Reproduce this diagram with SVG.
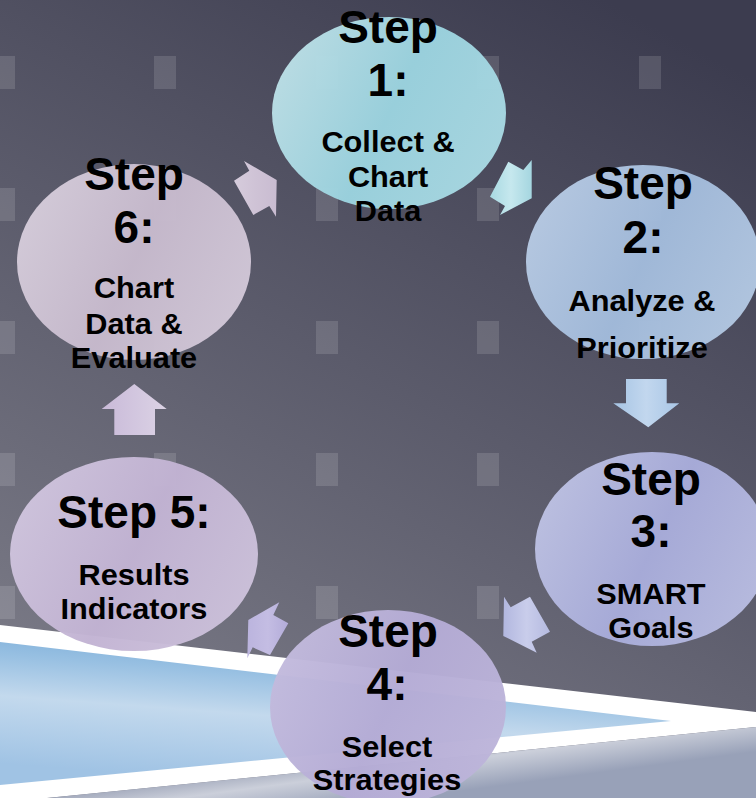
<svg xmlns="http://www.w3.org/2000/svg" width="756" height="798" viewBox="0 0 756 798">
<defs>
<linearGradient id="bg" x1="0.8" y1="0" x2="0.3" y2="1">
<stop offset="0" stop-color="#3c3c4f"/>
<stop offset="0.5" stop-color="#5b5b6b"/>
<stop offset="1" stop-color="#7b7b87"/>
</linearGradient>
<linearGradient id="blue" gradientUnits="userSpaceOnUse" x1="300" y1="650" x2="290" y2="785">
<stop offset="0" stop-color="#7fb0da"/>
<stop offset="0.2" stop-color="#98c0e2"/>
<stop offset="0.5" stop-color="#c3d9ed"/>
<stop offset="0.8" stop-color="#aecce8"/>
<stop offset="1" stop-color="#a0c3e4"/>
</linearGradient>
<linearGradient id="steel" gradientUnits="userSpaceOnUse" x1="400" y1="738" x2="408" y2="798">
<stop offset="0" stop-color="#868fa7"/>
<stop offset="0.5" stop-color="#cbcfda"/>
<stop offset="1" stop-color="#98a1b8"/>
</linearGradient>
<linearGradient id="g1" x1="0" y1="0.3" x2="1" y2="0.7"><stop offset="0" stop-color="#bde0e7"/><stop offset="0.5" stop-color="#9bd3df"/><stop offset="1" stop-color="#a9d9e3"/></linearGradient>
<linearGradient id="g2" x1="0" y1="0.3" x2="1" y2="0.7"><stop offset="0" stop-color="#b8cbe4"/><stop offset="0.5" stop-color="#a2bbdb"/><stop offset="1" stop-color="#b3c8e2"/></linearGradient>
<linearGradient id="g3" x1="0" y1="0.3" x2="1" y2="0.7"><stop offset="0" stop-color="#bec2e3"/><stop offset="0.5" stop-color="#a8acda"/><stop offset="1" stop-color="#b9bde1"/></linearGradient>
<linearGradient id="g4" x1="0" y1="0.3" x2="1" y2="0.7"><stop offset="0" stop-color="#c3bbdd"/><stop offset="0.5" stop-color="#b4abd5"/><stop offset="1" stop-color="#bdb5da"/></linearGradient>
<linearGradient id="g5" x1="0" y1="0.3" x2="1" y2="0.7"><stop offset="0" stop-color="#d0c5de"/><stop offset="0.5" stop-color="#c2b3d3"/><stop offset="1" stop-color="#cdc2db"/></linearGradient>
<linearGradient id="g6" x1="0" y1="0.3" x2="1" y2="0.7"><stop offset="0" stop-color="#d6cddb"/><stop offset="0.5" stop-color="#c7bacd"/><stop offset="1" stop-color="#d2c8d8"/></linearGradient>
<linearGradient id="a1" x1="0" y1="0" x2="1" y2="0"><stop offset="0" stop-color="#a8d9e2"/><stop offset="0.5" stop-color="#c6e8ee"/><stop offset="1" stop-color="#a5d6e0"/></linearGradient>
<linearGradient id="a2" x1="0" y1="0" x2="1" y2="0"><stop offset="0" stop-color="#a6c4e4"/><stop offset="0.5" stop-color="#c2d7ee"/><stop offset="1" stop-color="#a9c6e6"/></linearGradient>
<linearGradient id="a3" x1="0" y1="0" x2="1" y2="0"><stop offset="0" stop-color="#b2b7df"/><stop offset="0.5" stop-color="#c9cdeb"/><stop offset="1" stop-color="#b5bae0"/></linearGradient>
<linearGradient id="a4" x1="0" y1="0" x2="1" y2="0"><stop offset="0" stop-color="#bbb4de"/><stop offset="0.5" stop-color="#c4bde3"/><stop offset="1" stop-color="#b3acd9"/></linearGradient>
<linearGradient id="a5" x1="0" y1="0" x2="1" y2="0"><stop offset="0" stop-color="#c9bad8"/><stop offset="0.5" stop-color="#d2c6df"/><stop offset="1" stop-color="#dcd3e5"/></linearGradient>
<linearGradient id="a6" x1="0" y1="0" x2="1" y2="0"><stop offset="0" stop-color="#d6ccdc"/><stop offset="0.5" stop-color="#cfc3d6"/><stop offset="1" stop-color="#c9bcd1"/></linearGradient>
</defs>
<style>
.sq{fill:#ffffff;fill-opacity:0.13}
.node ellipse{opacity:0.97}
text{font-family:"Liberation Sans",Arial,sans-serif;font-weight:bold;fill:#000;text-anchor:middle}
.big{font-size:46px}
.sub{font-size:29px}
</style>
<rect width="756" height="798" fill="url(#bg)"/>
<g id="squares">
<rect class="sq" x="-7" y="56" width="22" height="33"/><rect class="sq" x="154" y="56" width="22" height="33"/><rect class="sq" x="316" y="56" width="22" height="33"/><rect class="sq" x="477" y="56" width="22" height="33"/><rect class="sq" x="639" y="56" width="22" height="33"/>
<rect class="sq" x="-7" y="188" width="22" height="33"/><rect class="sq" x="154" y="188" width="22" height="33"/><rect class="sq" x="316" y="188" width="22" height="33"/><rect class="sq" x="477" y="188" width="22" height="33"/><rect class="sq" x="639" y="188" width="22" height="33"/>
<rect class="sq" x="-7" y="321" width="22" height="33"/><rect class="sq" x="154" y="321" width="22" height="33"/><rect class="sq" x="316" y="321" width="22" height="33"/><rect class="sq" x="477" y="321" width="22" height="33"/><rect class="sq" x="639" y="321" width="22" height="33"/>
<rect class="sq" x="-7" y="453" width="22" height="33"/><rect class="sq" x="154" y="453" width="22" height="33"/><rect class="sq" x="316" y="453" width="22" height="33"/><rect class="sq" x="477" y="453" width="22" height="33"/><rect class="sq" x="639" y="453" width="22" height="33"/>
<rect class="sq" x="-7" y="586" width="22" height="33"/><rect class="sq" x="154" y="586" width="22" height="33"/><rect class="sq" x="316" y="586" width="22" height="33"/><rect class="sq" x="477" y="586" width="22" height="33"/><rect class="sq" x="639" y="586" width="22" height="33"/>
</g>
<g id="band">
<polygon points="0,625 756,712 756,727 47,798 0,798" fill="#ffffff"/>
<polygon points="0,642 671,721 0,785" fill="url(#blue)"/>
<polygon points="47,798 756,727 756,798" fill="url(#steel)"/>
</g>
<g id="connectors">
<polygon points="508.3,161.7 523.3,170 531.7,160 531.7,198.3 500,215 505,206 490,196.7" fill="url(#a1)"/>
<polygon points="626,379 666.7,379 666.7,403.3 679.3,403.3 648.3,427.3 613.3,403.3 626,403.3" fill="url(#a2)"/>
<polygon points="504,596.7 510.7,607.3 530,596.7 550,631.7 531.7,641.7 536.7,652.7 503.3,636" fill="url(#a3)"/>
<polygon points="279.3,602.3 273.3,615 288.3,623.3 270,655 252.7,647.3 247.3,658.3 248.3,620" fill="url(#a4)"/>
<polygon points="134.3,384 166.7,409 155,409 155,435 114.3,435 114.3,409 101.7,409" fill="url(#a5)"/>
<polygon points="244,161 249.3,170.7 234,180.7 253.3,215 269.3,206 276,216.7 276.7,180" fill="url(#a6)"/>
</g>
<g id="node-1" class="node">
<ellipse cx="389" cy="113" rx="117" ry="96" fill="url(#g1)"/>
<text class="big" x="388" y="43">Step</text>
<text class="big" x="388" y="96">1:</text>
<g transform="translate(388 0) scale(1.06 1)">
<text class="sub" x="0" y="152">Collect &amp;</text>
<text class="sub" x="0" y="187">Chart</text>
<text class="sub" x="0" y="221">Data</text>
</g>
</g>
<g id="node-2" class="node">
<ellipse cx="643" cy="262" rx="117" ry="97" fill="url(#g2)"/>
<text class="big" x="643" y="199">Step</text>
<text class="big" x="643" y="253">2:</text>
<g transform="translate(642 0) scale(1.06 1)">
<text class="sub" x="0" y="311">Analyze &amp;</text>
<text class="sub" x="0" y="358">Prioritize</text>
</g>
</g>
<g id="node-3" class="node">
<ellipse cx="652" cy="549" rx="117" ry="97" fill="url(#g3)"/>
<text class="big" x="651" y="495">Step</text>
<text class="big" x="651" y="547">3:</text>
<g transform="translate(651 0) scale(1.06 1)">
<text class="sub" x="0" y="604">SMART</text>
<text class="sub" x="0" y="638">Goals</text>
</g>
</g>
<g id="node-4" class="node">
<ellipse cx="388" cy="707" rx="118" ry="97" fill="url(#g4)"/>
<text class="big" x="388" y="647">Step</text>
<text class="big" x="387" y="700">4:</text>
<g transform="translate(387 0) scale(1.06 1)">
<text class="sub" x="0" y="757">Select</text>
<text class="sub" x="0" y="790">Strategies</text>
</g>
</g>
<g id="node-5" class="node">
<ellipse cx="134" cy="554" rx="124" ry="97" fill="url(#g5)"/>
<text class="big" x="134" y="528">Step 5:</text>
<g transform="translate(134 0) scale(1.06 1)">
<text class="sub" x="0" y="585">Results</text>
<text class="sub" x="0" y="619">Indicators</text>
</g>
</g>
<g id="node-6" class="node">
<ellipse cx="134" cy="262" rx="117" ry="98" fill="url(#g6)"/>
<text class="big" x="134" y="190">Step</text>
<text class="big" x="134" y="243">6:</text>
<g transform="translate(134 0) scale(1.06 1)">
<text class="sub" x="0" y="298">Chart</text>
<text class="sub" x="0" y="334">Data &amp;</text>
<text class="sub" x="0" y="368">Evaluate</text>
</g>
</g>
</svg>
